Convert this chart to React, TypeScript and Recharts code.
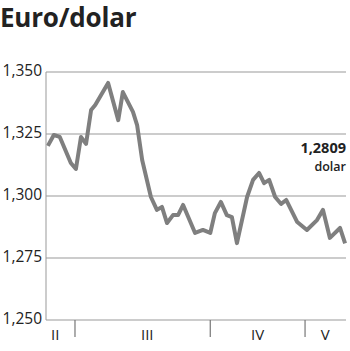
import React from "react";
import {
  LineChart,
  Line,
  XAxis,
  YAxis,
  CartesianGrid,
} from "recharts";

document.body.style.margin = "0";

// trading day (since mid-February) and EUR/USD rate
const days = [
  0.4, 1.7, 3.0, 5.4, 6.5, 7.6, 8.7, 9.8, 10.7, 13.5, 15.7, 16.7, 18.9, 19.8,
  20.9, 22.8, 24.1, 25.2, 26.3, 27.6, 28.7, 29.8, 32.4, 34.1, 35.7, 36.7, 38.0,
  39.3, 40.4, 41.5, 43.7, 45.0, 46.3, 47.4, 48.5, 49.8, 51.1, 52.2, 54.6, 56.7,
  58.9, 60.2, 61.7, 63.9, 65.0,
];
const rates = [
  1.3202, 1.3246, 1.3238, 1.3133, 1.3109, 1.3238, 1.321, 1.3347, 1.3367,
  1.3456, 1.3306, 1.3419, 1.3339, 1.3286, 1.3145, 1.2996, 1.2944, 1.2956,
  1.2891, 1.2923, 1.2923, 1.2964, 1.2851, 1.2863, 1.2851, 1.2931, 1.2976,
  1.2923, 1.2915, 1.281, 1.2996, 1.3065, 1.3093, 1.3052, 1.3065, 1.2996,
  1.2968, 1.2984, 1.2895, 1.2863, 1.2903, 1.2944, 1.2831, 1.2871, 1.2809,
];

const yTicks = [1.25, 1.275, 1.3, 1.325, 1.35];
const monthBreaks = [6.3, 35.7, 56.3];
const monthLabels = ["II", "III", "IV", "V"];
const monthCenters = [2, 22, 46, 60.7];

const data = days.map((d, i) => ({ day: d, rate: rates[i] }));

const font = "'Open Sans', sans-serif";

function MonthTick(props: any) {
  const { x, y, payload } = props;
  const v = payload.value;
  if (monthBreaks.includes(v)) {
    return <line x1={x} x2={x} y1={y} y2={y + 17} stroke="#777" strokeWidth={1.2} />;
  }
  const idx = monthCenters.indexOf(v);
  return (
    <text x={x} y={y + 20} textAnchor="middle" fontSize={15} fill="#222" fontFamily={font}>
      {monthLabels[idx]}
    </text>
  );
}

export default function App() {
  return (
    <div style={{ position: "relative", width: 350, height: 351, background: "#fff" }}>
      <div
        style={{
          position: "absolute",
          left: 0,
          top: 0,
          fontFamily: font,
          fontWeight: 700,
          fontSize: 26,
          color: "#222",
          lineHeight: "34px",
          letterSpacing: -0.2,
        }}
      >
        Euro/dolar
      </div>
      <div
        style={{
          position: "absolute",
          right: 4,
          top: 137.5,
          fontFamily: font,
          fontWeight: 700,
          fontSize: 14.5,
          lineHeight: "normal",
          color: "#222",
        }}
      >
        1,2809
      </div>
      <div
        style={{
          position: "absolute",
          right: 4,
          top: 157.6,
          fontFamily: font,
          fontWeight: 600,
          fontSize: 12.5,
          lineHeight: "normal",
          color: "#222",
        }}
      >
        dolar
      </div>
      <LineChart
        width={350}
        height={351}
        data={data}
        margin={{ top: 72, right: 4, bottom: 0, left: 0 }}
      >
        <CartesianGrid vertical={false} stroke="#999" strokeWidth={1} />
        <XAxis
          dataKey="day"
          type="number"
          domain={[0, 65.2]}
          ticks={[...monthBreaks, ...monthCenters].sort((a, b) => a - b)}
          tick={<MonthTick />}
          tickLine={false}
          axisLine={false}
          tickSize={0}
          tickMargin={0}
          height={31}
          interval={0}
        />
        <YAxis
          domain={[1.25, 1.35]}
          ticks={yTicks}
          tickFormatter={(v: number) => v.toFixed(3).replace(".", ",")}
          width={46}
          tickLine={false}
          tickSize={0}
          axisLine={{ stroke: "#999" }}
          tickMargin={4}
          tick={{ fontSize: 15.5, fill: "#222", fontFamily: font, dy: -2 }}
          allowDataOverflow
        />
        <YAxis
          yAxisId="r"
          orientation="right"
          width={0}
          tick={false}
          tickLine={false}
          axisLine={{ stroke: "#999" }}
          domain={[1.25, 1.35]}
        />
        <Line
          type="linear"
          dataKey="rate"
          stroke="#7f7f7f"
          strokeWidth={4}
          dot={false}
          strokeLinejoin="round"
          isAnimationActive={false}
        />
      </LineChart>
    </div>
  );
}
